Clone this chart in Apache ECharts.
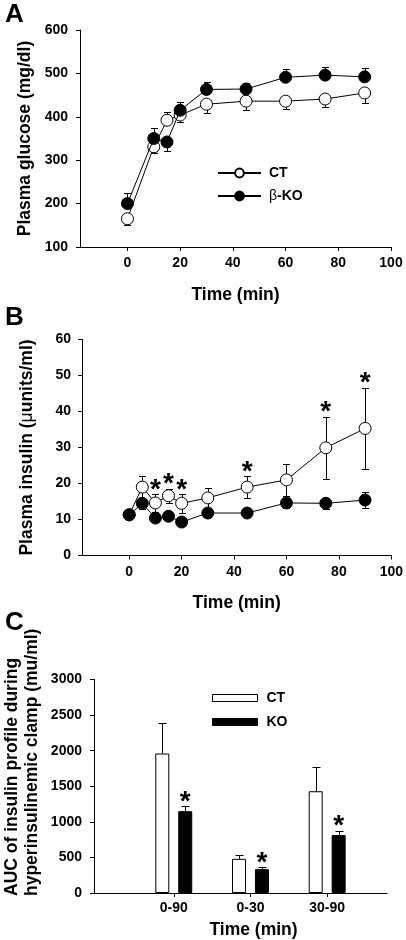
<!DOCTYPE html>
<html><head><meta charset="utf-8">
<script src="https://cdn.jsdelivr.net/npm/echarts@6/dist/echarts.min.js"></script>
<style>html,body{margin:0;padding:0;background:#fff}#c{width:406px;height:940px}</style>
</head><body><div id="c"></div>
<script>
// ---------- data ----------
const glucoseTimes = [0, 10, 15, 20, 30, 45, 60, 75, 90];
const glucoseCT    = [165, 331, 392, 404, 429, 436, 436, 441, 455];
const glucoseCTErr = [15, 15, 18, 16, 21, 21, 19, 18, 23];
const glucoseCTDir = [-1, -1, 1, -1, -1, -1, -1, -1, -1];
const glucoseKO    = [200, 350, 342, 415, 463, 464, 491, 496, 492];
const glucoseKOErr = [25, 25, 20, 18, 17, 14, 18, 19, 21];
const glucoseKODir = [1, 1, -1, 1, 1, 1, 1, 1, 1];

const insulinTimes = [0, 5, 10, 15, 20, 30, 45, 60, 75, 90];
const insulinCT    = [11.3, 19.0, 14.6, 16.6, 14.5, 16.0, 19.0, 21.0, 29.9, 35.3];
const insulinCTErr = [0.8, 3.2, 2.5, 2.0, 2.6, 2.7, 3.0, 4.4, 8.7, 11.3];
const insulinKO    = [11.3, 14.5, 10.4, 10.9, 9.3, 11.8, 11.8, 14.6, 14.5, 15.4];
const insulinKOErr = [0.8, 1.5, 1.2, 1.0, 0.8, 1.0, 1.0, 1.3, 1.6, 2.2];
const insulinStarTimes = [10, 15, 20, 45, 75, 90];

const aucCategories = ['0-90', '0-30', '30-90'];
const aucCT    = [1960, 480, 1430];
const aucCTErr = [430, 55, 340];
const aucKO    = [1150, 335, 815];
const aucKOErr = [75, 28, 62];
const aucStarCategories = ['0-90', '0-30', '30-90'];

const timeTickLabels = [0, 20, 40, 60, 80, 100];

// ---------- styling ----------
const FONT = '"Liberation Sans", Arial, sans-serif';
const BAR_W = 14, BAR_GAP = 0.64;
const BAR_SHIFT = BAR_W * (1 + BAR_GAP) / 2;

function errRender(capHalf, xShift) {
  return function (params, api) {
    const x = api.value(0);
    const p0 = api.coord([x, api.value(1)]);
    const p1 = api.coord([x, api.value(2)]);
    const sx = Math.round(p0[0] + xShift) + 0.5;
    const y1 = Math.round(p1[1]) + 0.5;
    return {
      type: 'group',
      children: [
        { type: 'line', shape: { x1: sx, y1: p0[1], x2: sx, y2: y1 }, style: { stroke: '#000', lineWidth: 1 } },
        { type: 'line', shape: { x1: sx - capHalf, y1: y1, x2: sx + capHalf, y2: y1 }, style: { stroke: '#000', lineWidth: 1 } }
      ]
    };
  };
}
function starRender(xShift, gap) {
  return function (params, api) {
    const p = api.coord([api.value(0), api.value(1)]);
    return {
      type: 'text', x: p[0] + xShift, y: p[1] - gap,
      style: { text: '*', font: 'bold 28px ' + FONT, fill: '#000', align: 'center', verticalAlign: 'middle' }
    };
  };
}
function axisBase(o) {
  const a = {
    axisLine: { show: true, onZero: false, lineStyle: { color: '#000', width: 1 } },
    axisTick: { show: true, inside: false, length: 4, lineStyle: { color: '#000', width: 1 } },
    axisLabel: { color: '#000', fontSize: 14, fontWeight: 'bold', fontFamily: FONT, formatter: v => String(v) },
    splitLine: { show: false },
    nameLocation: 'middle',
    nameTextStyle: { color: '#000', fontSize: 17.5, fontWeight: 'bold', fontFamily: FONT }
  };
  for (const k in o) {
    if (typeof o[k] === 'object' && !Array.isArray(o[k]) && a[k]) a[k] = Object.assign({}, a[k], o[k]);
    else a[k] = o[k];
  }
  return a;
}

// error-bar data
const gluCTErrData = glucoseTimes.map((t, i) => [t, glucoseCT[i], glucoseCT[i] + glucoseCTDir[i] * glucoseCTErr[i]]);
const gluKOErrData = glucoseTimes.map((t, i) => [t, glucoseKO[i], glucoseKO[i] + glucoseKODir[i] * glucoseKOErr[i]]);
const insCTErrData = [], insKOErrData = [];
insulinTimes.forEach((t, i) => {
  insCTErrData.push([t, insulinCT[i], insulinCT[i] + insulinCTErr[i]], [t, insulinCT[i], insulinCT[i] - insulinCTErr[i]]);
  insKOErrData.push([t, insulinKO[i], insulinKO[i] + insulinKOErr[i]], [t, insulinKO[i], insulinKO[i] - insulinKOErr[i]]);
});
const insStarData = insulinStarTimes.map(t => { const i = insulinTimes.indexOf(t); return [t, insulinCT[i] + insulinCTErr[i]]; });
const aucPos = aucCategories.map((c, i) => i + 1);
const aucCTErrData = aucCategories.map((c, i) => [aucPos[i], aucCT[i], aucCT[i] + aucCTErr[i]]);
const aucKOErrData = aucCategories.map((c, i) => [aucPos[i], aucKO[i], aucKO[i] + aucKOErr[i]]);
const aucStarData = aucStarCategories.map(c => { const i = aucCategories.indexOf(c); return [aucPos[i], aucKO[i] + aucKOErr[i]]; });

const openSym = { color: '#fff', borderColor: '#000', borderWidth: 1 };
const fillSym = { color: '#000', borderColor: '#000', borderWidth: 1 };
const lineSt = { color: '#000', width: 1 };

const chart = echarts.init(document.getElementById('c'), null, { renderer: 'canvas' });
chart.setOption({
  animation: false,
  backgroundColor: '#fff',
  textStyle: { fontFamily: FONT },
  grid: [
    { left: 80, top: 30, width: 311, height: 217 },
    { left: 82, top: 339.5, width: 311, height: 216 },
    { left: 94, top: 679.5, width: 293, height: 214 }
  ],
  xAxis: [
    axisBase({ gridIndex: 0, type: 'value', min: -18, max: 100,
      axisTick: { customValues: timeTickLabels }, axisLabel: { customValues: timeTickLabels, margin: 9 },
      name: 'Time (min)', nameGap: 39 }),
    axisBase({ gridIndex: 1, type: 'value', min: -18, max: 100,
      axisTick: { customValues: timeTickLabels }, axisLabel: { customValues: timeTickLabels, margin: 10 },
      name: 'Time (min)', nameGap: 39 }),
    axisBase({ gridIndex: 2, type: 'value', min: -0.04, max: 3.78,
      axisTick: { customValues: aucPos }, axisLabel: { customValues: aucPos, margin: 8, formatter: v => aucCategories[Math.round(v) - 1] },
      name: 'Time (min)', nameGap: 28,
      nameTextStyle: { padding: [0, 0, 0, 26] } })
  ],
  yAxis: [
    axisBase({ gridIndex: 0, type: 'value', min: 100, max: 600, interval: 100,
      axisLabel: { margin: 12 }, name: 'Plasma glucose (mg/dl)', nameGap: 46, nameRotate: 90 }),
    axisBase({ gridIndex: 1, type: 'value', min: 0, max: 60, interval: 10,
      axisLabel: { margin: 11 }, name: '{n|Plasma insulin (}{m|μ}{n|units/ml)}', nameGap: 46, nameRotate: 90,
      nameTextStyle: { rich: {
        n: { fontSize: 17.5, fontWeight: 'bold', fontFamily: FONT, color: '#000' },
        m: { fontSize: 17.5, fontWeight: 'normal', fontFamily: FONT, color: '#000' } } } }),
    axisBase({ gridIndex: 2, type: 'value', min: 0, max: 3000, interval: 500,
      axisLabel: { margin: 12 } })
  ],
  legend: [
    { data: ['CT', 'β-KO'], orient: 'vertical', left: 212, top: 161, itemWidth: 43, itemHeight: 11, itemGap: 9,
      textStyle: { color: '#000', fontSize: 14, fontWeight: 'bold', fontFamily: FONT, padding: [0, 0, 0, 3],
        rich: { g: { fontSize: 14, fontWeight: 'normal', fontFamily: FONT, color: '#000' },
                k: { fontSize: 14, fontWeight: 'bold', fontFamily: FONT, color: '#000' } } },
      formatter: n => n === 'β-KO' ? '{g|β}{k|-KO}' : n, selectedMode: false },
    { data: [
        { name: 'CT AUC', icon: 'rect', itemStyle: { color: '#fff', borderColor: '#000', borderWidth: 1 } },
        { name: 'KO AUC', icon: 'rect', itemStyle: { color: '#000', borderColor: '#000', borderWidth: 1 } }],
      orient: 'vertical', left: 207, top: 686, itemWidth: 45, itemHeight: 7, itemGap: 10,
      textStyle: { color: '#000', fontSize: 14, fontWeight: 'bold', fontFamily: FONT, padding: [0, 0, 0, 4] },
      formatter: n => n.replace(' AUC', ''), selectedMode: false }
  ],
  graphic: [
    { type: 'text', left: 5, top: 2, style: { text: 'A', font: 'bold 26px ' + FONT, fill: '#000' } },
    { type: 'text', left: 5, top: 305, style: { text: 'B', font: 'bold 26px ' + FONT, fill: '#000' } },
    { type: 'text', left: 5, top: 610, style: { text: 'C', font: 'bold 26px ' + FONT, fill: '#000' } },
    { type: 'text', x: 22, y: 896, rotation: Math.PI / 2,
      style: { text: 'AUC of insulin profile during\nhyperinsulinemic clamp (mu/ml)', font: 'bold 17.5px ' + FONT,
        fill: '#000', align: 'left', verticalAlign: 'middle', lineHeight: 20 } }
  ],
  series: [
    // Panel A
    { type: 'custom', xAxisIndex: 0, yAxisIndex: 0, renderItem: errRender(3.5, 0), data: gluCTErrData, z: 1, silent: true },
    { type: 'custom', xAxisIndex: 0, yAxisIndex: 0, renderItem: errRender(3.5, 0), data: gluKOErrData, z: 1, silent: true },
    { name: 'CT', type: 'line', xAxisIndex: 0, yAxisIndex: 0, data: glucoseTimes.map((t, i) => [t, glucoseCT[i]]),
      symbol: 'circle', symbolSize: 12, showAllSymbol: true, itemStyle: openSym, lineStyle: lineSt, z: 3 },
    { name: 'β-KO', type: 'line', xAxisIndex: 0, yAxisIndex: 0, data: glucoseTimes.map((t, i) => [t, glucoseKO[i]]),
      symbol: 'circle', symbolSize: 12, showAllSymbol: true, itemStyle: fillSym, lineStyle: lineSt, z: 4 },
    // Panel B
    { type: 'custom', xAxisIndex: 1, yAxisIndex: 1, renderItem: errRender(3.5, 0), data: insCTErrData, z: 1, silent: true },
    { type: 'custom', xAxisIndex: 1, yAxisIndex: 1, renderItem: errRender(3.5, 0), data: insKOErrData, z: 1, silent: true },
    { name: 'CT insulin', type: 'line', xAxisIndex: 1, yAxisIndex: 1, data: insulinTimes.map((t, i) => [t, insulinCT[i]]),
      symbol: 'circle', symbolSize: 12, showAllSymbol: true, itemStyle: openSym, lineStyle: lineSt, z: 3 },
    { name: 'KO insulin', type: 'line', xAxisIndex: 1, yAxisIndex: 1, data: insulinTimes.map((t, i) => [t, insulinKO[i]]),
      symbol: 'circle', symbolSize: 12, showAllSymbol: true, itemStyle: fillSym, lineStyle: lineSt, z: 4 },
    { type: 'custom', xAxisIndex: 1, yAxisIndex: 1, renderItem: starRender(0, 4), data: insStarData, z: 5, silent: true },
    // Panel C
    { name: 'CT AUC', type: 'bar', xAxisIndex: 2, yAxisIndex: 2, data: aucCategories.map((c, i) => [aucPos[i], aucCT[i]]),
      barWidth: BAR_W, barGap: (BAR_GAP * 100) + '%', itemStyle: openSym, z: 2 },
    { name: 'KO AUC', type: 'bar', xAxisIndex: 2, yAxisIndex: 2, data: aucCategories.map((c, i) => [aucPos[i], aucKO[i]]),
      barWidth: BAR_W, barGap: (BAR_GAP * 100) + '%', itemStyle: fillSym, z: 2 },
    { type: 'custom', xAxisIndex: 2, yAxisIndex: 2, renderItem: errRender(4, -BAR_SHIFT), data: aucCTErrData, z: 1, silent: true },
    { type: 'custom', xAxisIndex: 2, yAxisIndex: 2, renderItem: errRender(4, BAR_SHIFT), data: aucKOErrData, z: 1, silent: true },
    { type: 'custom', xAxisIndex: 2, yAxisIndex: 2, renderItem: starRender(BAR_SHIFT, 4), data: aucStarData, z: 5, silent: true }
  ]
});
</script>
</body></html>
